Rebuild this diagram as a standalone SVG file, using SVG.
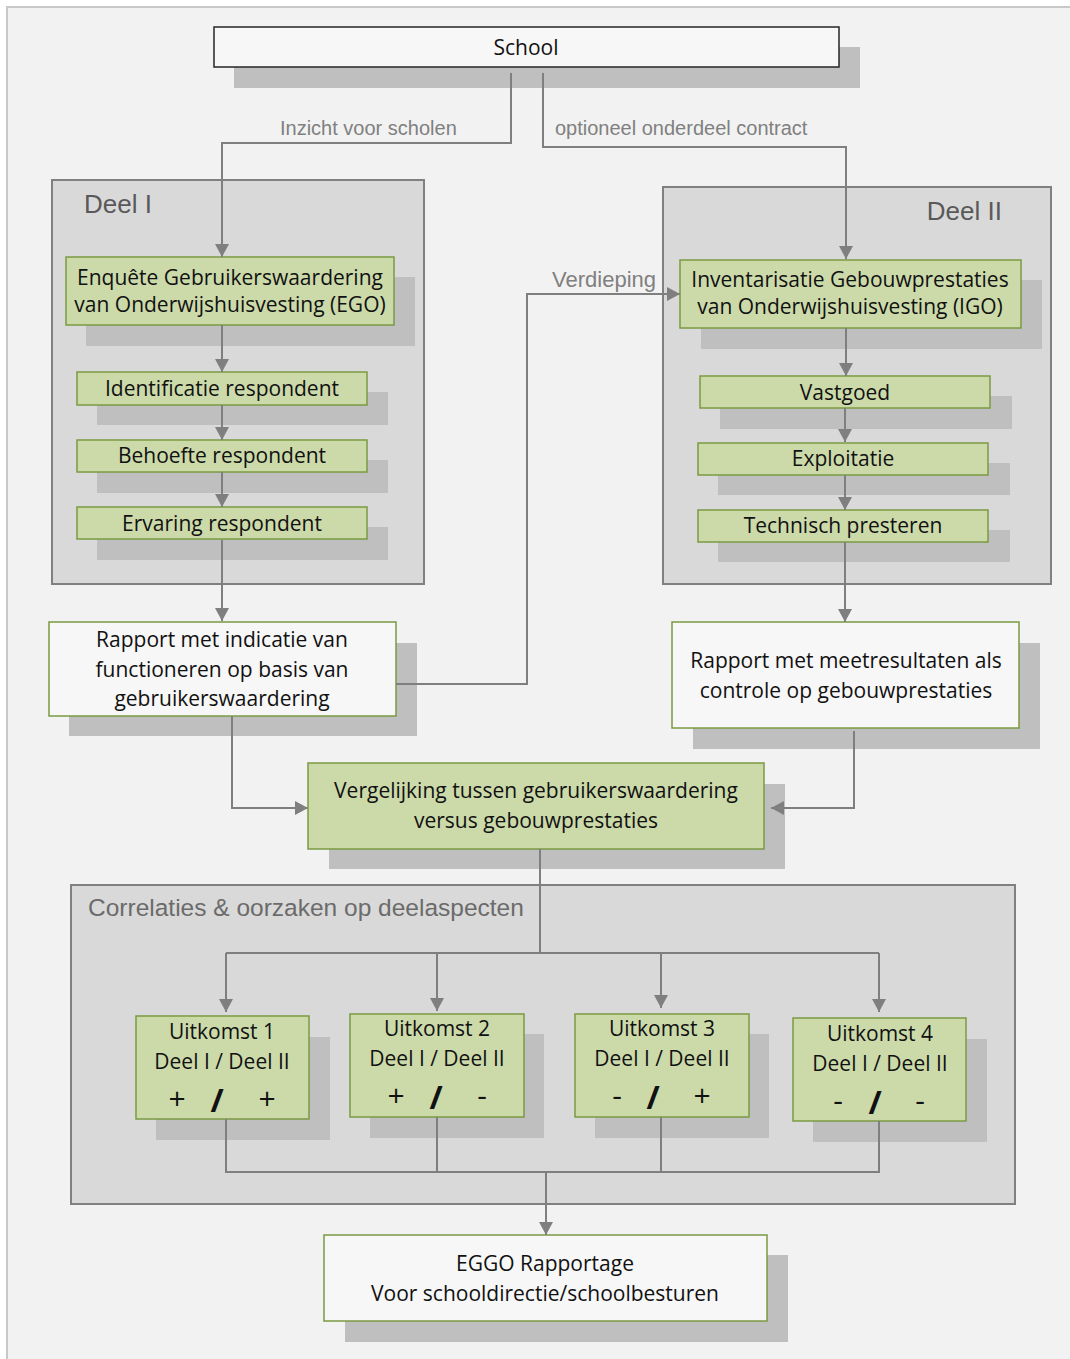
<svg xmlns="http://www.w3.org/2000/svg" width="1070" height="1359" viewBox="0 0 1070 1359">
  <style>
    .bg{fill:#f2f2f2;stroke:#c8c8c8;stroke-width:2}
    .cont{fill:#d9d9d9;stroke:#808080;stroke-width:2}
    .sh{fill:#bfbfbf}
    .green{fill:#ccdaaa;stroke:#7b9a42;stroke-width:1.5}
    .white{fill:#f7f7f7;stroke:#7b9a42;stroke-width:1.5}
    .school{fill:#f7f7f7;stroke:#262626;stroke-width:1.5}
    .t{font-family:"Open Sans","Noto Sans",sans-serif;font-size:21px;fill:#111;text-anchor:middle}
    .sign{font-family:"Open Sans","Noto Sans",sans-serif;font-size:30px;fill:#111;text-anchor:middle}
    .slash{font-family:"Open Sans","Noto Sans",sans-serif;font-size:32px;font-weight:bold;fill:#111;text-anchor:middle}
    .lbl{font-family:"Liberation Sans",Arial,sans-serif;font-size:20px;fill:#808080}
    .title{font-family:"Liberation Sans",Arial,sans-serif;font-size:26px;fill:#595959}
    .conn{fill:none;stroke:#7f7f7f;stroke-width:2}
  </style>
  <defs>
    <marker id="arr" markerUnits="userSpaceOnUse" markerWidth="14" markerHeight="14" refX="13" refY="7" orient="auto">
      <path d="M0,0 L13,7 L0,14 z" fill="#7f7f7f"/>
    </marker>
  </defs>

  <rect class="bg" x="7" y="7" width="1070" height="1360"/>

  <g id="deel1">
    <rect class="cont" x="52" y="180" width="372" height="404"/>
    <text class="title" x="84" y="213">Deel I</text>
  </g>
  <g id="deel2">
    <rect class="cont" x="663" y="187" width="388" height="397"/>
    <text class="title" x="1002" y="220" text-anchor="end">Deel II</text>
  </g>
  <g id="correlaties">
    <rect class="cont" x="71" y="885" width="944" height="319"/>
    <text class="title" x="88" y="916" style="font-size:24.5px;fill:#6b6b6b">Correlaties &amp; oorzaken op deelaspecten</text>
  </g>

  <g id="school">
    <rect class="sh" x="234" y="47" width="626" height="41"/>
    <rect class="school" x="214" y="27" width="625" height="40"/>
    <text class="t" x="526" y="55">School</text>
  </g>

  <g id="ego">
    <rect class="sh" x="86" y="277" width="329" height="69"/>
    <rect class="green" x="66" y="257" width="328" height="68"/>
    <text class="t" x="230" y="285">Enquête Gebruikerswaardering</text>
    <text class="t" x="230" y="312">van Onderwijshuisvesting (EGO)</text>
  </g>
  <g id="identificatie">
    <rect class="sh" x="97" y="392" width="291" height="33"/>
    <rect class="green" x="77" y="372" width="290" height="33"/>
    <text class="t" x="222" y="396">Identificatie respondent</text>
  </g>
  <g id="behoefte">
    <rect class="sh" x="97" y="460" width="291" height="33"/>
    <rect class="green" x="77" y="440" width="290" height="32"/>
    <text class="t" x="222" y="463">Behoefte respondent</text>
  </g>
  <g id="ervaring">
    <rect class="sh" x="97" y="527" width="291" height="33"/>
    <rect class="green" x="77" y="507" width="290" height="32"/>
    <text class="t" x="222" y="531">Ervaring respondent</text>
  </g>

  <g id="igo">
    <rect class="sh" x="701" y="280" width="341" height="69"/>
    <rect class="green" x="680" y="260" width="341" height="68"/>
    <text class="t" x="850" y="287">Inventarisatie Gebouwprestaties</text>
    <text class="t" x="850" y="314">van Onderwijshuisvesting (IGO)</text>
  </g>
  <g id="vastgoed">
    <rect class="sh" x="720" y="396" width="292" height="33"/>
    <rect class="green" x="700" y="376" width="290" height="32"/>
    <text class="t" x="845" y="400">Vastgoed</text>
  </g>
  <g id="exploitatie">
    <rect class="sh" x="718" y="463" width="292" height="32"/>
    <rect class="green" x="698" y="443" width="290" height="32"/>
    <text class="t" x="843" y="466">Exploitatie</text>
  </g>
  <g id="technisch">
    <rect class="sh" x="718" y="530" width="292" height="32"/>
    <rect class="green" x="698" y="510" width="290" height="32"/>
    <text class="t" x="843" y="533">Technisch presteren</text>
  </g>

  <g id="rapport1">
    <rect class="sh" x="69" y="643" width="348" height="93"/>
    <rect class="white" x="49" y="622" width="347" height="94"/>
    <text class="t" x="222" y="647">Rapport met indicatie van</text>
    <text class="t" x="222" y="677">functioneren op basis van</text>
    <text class="t" x="222" y="706">gebruikerswaardering</text>
  </g>
  <g id="rapport2">
    <rect class="sh" x="693" y="643" width="347" height="106"/>
    <rect class="white" x="672" y="622" width="347" height="106"/>
    <text class="t" x="846" y="668">Rapport met meetresultaten als</text>
    <text class="t" x="846" y="698">controle op gebouwprestaties</text>
  </g>

  <g id="vergelijking">
    <rect class="sh" x="329" y="784" width="456" height="85"/>
    <rect class="green" x="308" y="763" width="456" height="86"/>
    <text class="t" x="536" y="798">Vergelijking tussen gebruikerswaardering</text>
    <text class="t" x="536" y="828">versus gebouwprestaties</text>
  </g>

  <g id="uitkomst1">
    <rect class="sh" x="156" y="1037" width="174" height="103"/>
    <rect class="green" x="136" y="1016" width="173" height="103"/>
    <text class="t" x="222" y="1039">Uitkomst 1</text>
    <text class="t" x="222" y="1069">Deel I / Deel II</text>
    <text class="sign" x="177" y="1109">+</text>
    <text class="slash" x="217" y="1112">/</text>
    <text class="sign" x="267" y="1109">+</text>
  </g>
  <g id="uitkomst2">
    <rect class="sh" x="370" y="1034" width="174" height="104"/>
    <rect class="green" x="350" y="1014" width="174" height="103"/>
    <text class="t" x="437" y="1036">Uitkomst 2</text>
    <text class="t" x="437" y="1066">Deel I / Deel II</text>
    <text class="sign" x="396" y="1106">+</text>
    <text class="slash" x="436" y="1109">/</text>
    <text class="sign" x="482" y="1106">-</text>
  </g>
  <g id="uitkomst3">
    <rect class="sh" x="595" y="1034" width="174" height="104"/>
    <rect class="green" x="575" y="1014" width="174" height="103"/>
    <text class="t" x="662" y="1036">Uitkomst 3</text>
    <text class="t" x="662" y="1066">Deel I / Deel II</text>
    <text class="sign" x="617" y="1106">-</text>
    <text class="slash" x="653" y="1109">/</text>
    <text class="sign" x="702" y="1106">+</text>
  </g>
  <g id="uitkomst4">
    <rect class="sh" x="813" y="1039" width="174" height="103"/>
    <rect class="green" x="793" y="1018" width="173" height="103"/>
    <text class="t" x="880" y="1041">Uitkomst 4</text>
    <text class="t" x="880" y="1071">Deel I / Deel II</text>
    <text class="sign" x="838" y="1111">-</text>
    <text class="slash" x="875" y="1114">/</text>
    <text class="sign" x="920" y="1111">-</text>
  </g>

  <g id="eggo">
    <rect class="sh" x="345" y="1255" width="443" height="87"/>
    <rect class="white" x="324" y="1235" width="443" height="86"/>
    <text class="t" x="545" y="1271">EGGO Rapportage</text>
    <text class="t" x="545" y="1301">Voor schooldirectie/schoolbesturen</text>
  </g>

  <g id="connectors">
    <path class="conn" d="M511,73 V143 H222 V257" marker-end="url(#arr)"/>
    <path class="conn" d="M543,73 V147 H846 V259" marker-end="url(#arr)"/>
    <path class="conn" d="M222,325 V372" marker-end="url(#arr)"/>
    <path class="conn" d="M222,405 V440" marker-end="url(#arr)"/>
    <path class="conn" d="M222,472 V507" marker-end="url(#arr)"/>
    <path class="conn" d="M222,540 V621" marker-end="url(#arr)"/>
    <path class="conn" d="M396,684 H527 V294 H680" marker-end="url(#arr)"/>
    <path class="conn" d="M846,328 V376" marker-end="url(#arr)"/>
    <path class="conn" d="M845,408 V442" marker-end="url(#arr)"/>
    <path class="conn" d="M845,475 V510" marker-end="url(#arr)"/>
    <path class="conn" d="M845,542 V622" marker-end="url(#arr)"/>
    <path class="conn" d="M232,716 V808 H308" marker-end="url(#arr)"/>
    <path class="conn" d="M854,731 V808 H771" marker-end="url(#arr)"/>
    <path class="conn" d="M540,849 V953 M226,953 H879"/>
    <path class="conn" d="M226,953 V1012" marker-end="url(#arr)"/>
    <path class="conn" d="M437,953 V1011" marker-end="url(#arr)"/>
    <path class="conn" d="M661,953 V1008" marker-end="url(#arr)"/>
    <path class="conn" d="M879,953 V1012" marker-end="url(#arr)"/>
    <path class="conn" d="M226,1119 V1172 H879 V1121 M437,1117 V1172 M661,1117 V1172"/>
    <path class="conn" d="M546,1172 V1235" marker-end="url(#arr)"/>
    <text class="lbl" x="280" y="135">Inzicht voor scholen</text>
    <text class="lbl" x="555" y="135">optioneel onderdeel contract</text>
    <text class="lbl" x="656" y="287" text-anchor="end" style="font-size:22px">Verdieping</text>
  </g>
</svg>
